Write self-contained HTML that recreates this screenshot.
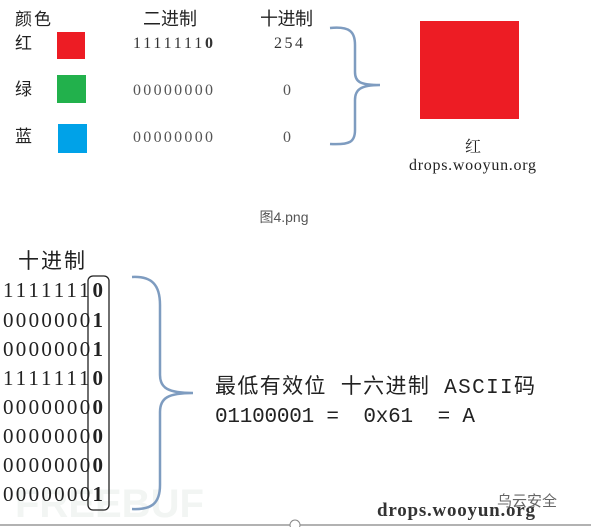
<!DOCTYPE html>
<html><head><meta charset="utf-8"><style>
html,body{margin:0;padding:0;background:#fff;}
svg{display:block}
</style></head><body>
<svg width="591" height="527" viewBox="0 0 591 527" xmlns="http://www.w3.org/2000/svg">
<text x="15" y="517" font-family="'Liberation Sans',sans-serif" font-size="40" font-weight="bold" fill="#f2f5f3">FREEBUF</text>
<g font-family="'Liberation Sans','Noto Sans CJK SC',sans-serif" fill="#222">
<text x="15" y="25" font-size="17" textLength="36">颜色</text>
<text x="143" y="25" font-size="18" textLength="54">二进制</text>
<text x="260" y="25" font-size="18" textLength="53">十进制</text>
<text x="15" y="49" font-size="17">红</text>
<text x="15" y="95" font-size="17">绿</text>
<text x="15" y="142" font-size="17">蓝</text>
</g>
<rect x="57" y="32" width="28" height="27" fill="#ed1c24"/>
<rect x="57" y="75" width="29" height="28" fill="#22b14c"/>
<rect x="58" y="124" width="29" height="29" fill="#00a2e8"/>
<g font-family="'Liberation Serif',serif" font-size="16" fill="#333">
<text x="133" y="48" textLength="80">1111111<tspan font-weight="bold">0</tspan></text>
<text x="274" y="48" textLength="29">254</text>
<text x="133" y="95" textLength="80" fill="#555">00000000</text>
<text x="283" y="95" fill="#555">0</text>
<text x="133" y="142" textLength="80" fill="#555">00000000</text>
<text x="283" y="142" fill="#555">0</text>
</g>
<path d="M330 28 C350 26 355 32 355 45 L355 72 C355 82 360 85 380 85 C360 85 355 90 355 100 L355 130 C355 142 350 145 330 144" fill="none" stroke="#7e9cc0" stroke-width="2.5"/>
<rect x="420" y="21" width="99" height="98" fill="#ed1c24"/>
<text x="465" y="152" font-family="'Liberation Serif','Noto Serif CJK SC',serif" font-size="16" fill="#222">红</text>
<text x="409" y="170" font-family="'Liberation Serif',serif" font-size="16" textLength="127" fill="#222">drops.wooyun.org</text>
<text x="284" y="222" text-anchor="middle" font-family="'Liberation Sans','Noto Sans CJK SC',sans-serif" font-size="14" fill="#555">图4.png</text>

<text x="18" y="268" font-family="'Liberation Sans','Noto Sans CJK SC',sans-serif" font-size="21" textLength="67" fill="#222">十进制</text>
<g font-family="'Liberation Serif',serif" font-size="21" fill="#222">
<text x="3" y="297" textLength="100">1111111<tspan font-weight="bold">0</tspan></text>
<text x="3" y="327" textLength="100">0000000<tspan font-weight="bold">1</tspan></text>
<text x="3" y="356" textLength="100">0000000<tspan font-weight="bold">1</tspan></text>
<text x="3" y="385" textLength="100">1111111<tspan font-weight="bold">0</tspan></text>
<text x="3" y="414" textLength="100">0000000<tspan font-weight="bold">0</tspan></text>
<text x="3" y="443" textLength="100">0000000<tspan font-weight="bold">0</tspan></text>
<text x="3" y="472" textLength="100">0000000<tspan font-weight="bold">0</tspan></text>
<text x="3" y="501" textLength="100">0000000<tspan font-weight="bold">1</tspan></text>
</g>
<rect x="88" y="276" width="21" height="234" rx="5" fill="none" stroke="#222" stroke-width="1.3"/>
<path d="M132 277 C152 276 160 285 160 305 L160 375 C160 388 168 393 193 393 C168 393 160 398 160 412 L160 485 C160 503 152 510 132 509" fill="none" stroke="#7e9cc0" stroke-width="2.5"/>
<g font-family="'Liberation Mono','Noto Sans CJK SC',monospace" font-size="21" fill="#222">
<text x="215" y="393" textLength="320">最低有效位 十六进制 ASCII码</text>
<text x="215" y="422" xml:space="preserve" textLength="260">01100001 =  0x61  = A</text>
</g>
<text x="377" y="516" font-family="'Liberation Serif',serif" font-size="19" font-weight="bold" textLength="158" fill="#333">drops.wooyun.org</text>
<text x="497" y="506" font-family="'Liberation Sans','Noto Sans CJK SC',sans-serif" font-size="15" fill="#666">乌云安全</text>
<line x1="0" y1="525" x2="591" y2="525" stroke="#999" stroke-width="1.5"/>
<circle cx="295" cy="525" r="5" fill="#fff" stroke="#888"/>
</svg>
</body></html>
